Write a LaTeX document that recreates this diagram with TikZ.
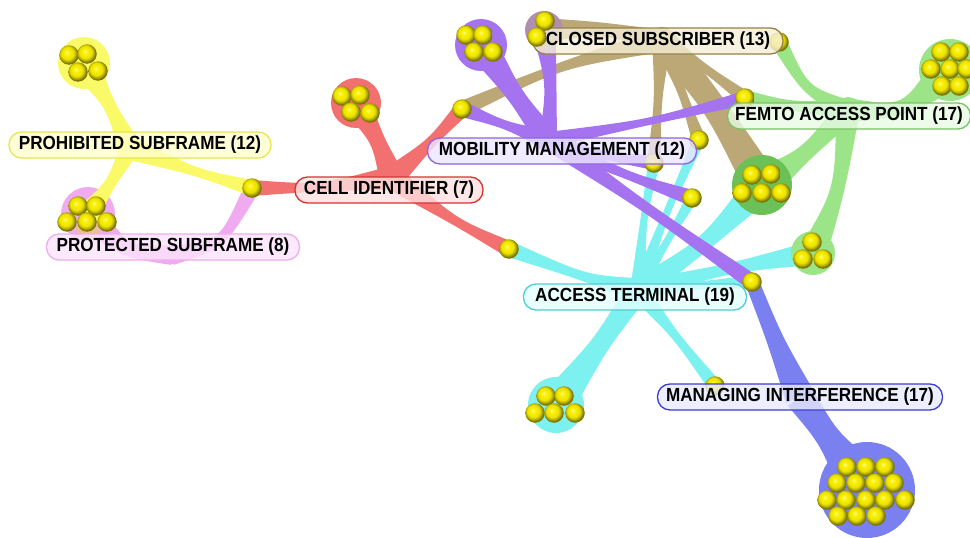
\documentclass[tikz,border=0pt]{standalone}
\usepackage{fontspec}
\usetikzlibrary{calc}
\newfontfamily\lblfont[FakeStretch=0.9]{Liberation Sans}
\definecolor{cyel}{RGB}{250,250,105}
\definecolor{cpink}{RGB}{240,170,240}
\definecolor{cred}{RGB}{242,112,112}
\definecolor{cpur}{RGB}{165,115,240}
\definecolor{ctan}{RGB}{188,168,118}
\definecolor{cgrn}{RGB}{155,228,135}
\definecolor{cdgrn}{RGB}{108,192,88}
\definecolor{ccyn}{RGB}{125,240,240}
\definecolor{cblu}{RGB}{122,128,240}
\definecolor{cmix}{RGB}{176,142,175}
\definecolor{corg}{RGB}{238,190,150}
\definecolor{bally}{RGB}{250,240,0}
\definecolor{dyel}{RGB}{230,230,80}\definecolor{fyel}{RGB}{255,255,205}
\definecolor{dpink}{RGB}{235,175,235}\definecolor{fpink}{RGB}{252,228,252}
\definecolor{dred}{RGB}{215,50,50}\definecolor{fred}{RGB}{255,225,225}
\definecolor{dpur}{RGB}{140,100,225}\definecolor{fpur}{RGB}{238,230,255}
\definecolor{dtan}{RGB}{150,130,70}\definecolor{ftan}{RGB}{245,238,215}
\definecolor{dgrn}{RGB}{120,195,100}\definecolor{fgrn}{RGB}{232,250,228}
\definecolor{dcyn}{RGB}{80,205,210}\definecolor{fcyn}{RGB}{228,255,255}
\definecolor{dblu}{RGB}{60,60,210}\definecolor{fblu}{RGB}{232,234,255}
\pgfdeclareradialshading{yball}{\pgfpoint{-6bp}{7bp}}{color(0bp)=(bally!45!white); color(7bp)=(bally); color(16bp)=(bally!94!black); color(22bp)=(bally!65!black); color(25bp)=(bally!48!black); color(50bp)=(bally!48!black)}
\pgfdeclarelayer{bg}
\pgfsetlayers{bg,main}
% ribbon: colour, A, control, B, half width at A, middle, at B
\newcommand\rib[7]{%
  \path ($(#2)!#6pt!90:(#4)$) coordinate (rl) ($(#2)!#6pt!-90:(#4)$) coordinate (rr);
  \fill[#1] ($(#2)!#5pt!90:(#3)$) .. controls ($(#3)+(rl)-(#2)$) .. ($(#4)!#7pt!-90:(#3)$)
    -- ($(#4)!#7pt!90:(#3)$) .. controls ($(#3)+(rr)-(#2)$) .. ($(#2)!#5pt!-90:(#3)$) -- cycle;}
\tikzset{
  ballnode/.style={circle, minimum size=19.5pt, inner sep=0pt, shading=yball},
  lbl/.style={rounded corners=12.5pt, minimum height=26pt, inner sep=0pt, line width=1.3pt,
    fill opacity=0.8, text opacity=1, text=black,
    font=\lblfont\bfseries\fontsize{19}{19}\selectfont},
}
\begin{document}
\begin{tikzpicture}[x=1pt,y=-1pt]
\useasboundingbox (0,0) rectangle (970,538);
% hubs
\coordinate (hY) at (130,148);
\coordinate (hP) at (172,255);
\coordinate (hR) at (392,178);
\coordinate (hPu) at (548,140);
\coordinate (hT) at (662,40);
\coordinate (hG) at (848,110);
\coordinate (hC) at (638,290);
\coordinate (hB) at (800,397);
% cluster centres
\coordinate (cY) at (84,63);
\coordinate (cP) at (88,214);
\coordinate (cR) at (356,103);
\coordinate (cPu) at (481,45);
\coordinate (cT) at (544,30);
\coordinate (cG) at (762,185);
\coordinate (cG2) at (950,70);
\coordinate (cG3) at (813,253);
\coordinate (cC) at (556,405);
\coordinate (cB) at (867,490);
% single balls
\node[ballnode] (b1) at (252,188) {};
\node[ballnode] (b2) at (462,109) {};
\node[ballnode] (b3) at (509,249) {};
\node[ballnode] (b4) at (745,98) {};
\node[ballnode] (b5) at (699,140) {};
\node[ballnode] (b6) at (654,163) {};
\node[ballnode] (b7) at (692,198) {};
\node[ballnode] (b8) at (752,282) {};
\node[ballnode] (b9) at (715,386) {};
\node[ballnode] (b10) at (779,42) {};
% cluster balls
\foreach \x/\y [count=\i] in {69/55,87/54,78/72,98/71} \node[ballnode] (y\i) at (\x,\y) {};
\foreach \x/\y [count=\i] in {78/206,96/206,67/222,87/222,107/222} \node[ballnode] (p\i) at (\x,\y) {};
\foreach \x/\y [count=\i] in {342/96,360/95,351/112,370/113} \node[ballnode] (r\i) at (\x,\y) {};
\foreach \x/\y [count=\i] in {466/35,483/35,474/52,493/52} \node[ballnode] (v\i) at (\x,\y) {};
\foreach \x/\y [count=\i] in {752/175,771/174,742/193,762/193,781/193} \node[ballnode] (g\i) at (\x,\y) {};
\foreach \x/\y [count=\i] in {941/52,959/52,931/69,950/69,967/69,942/86,959/86} \node[ballnode] (h\i) at (\x,\y) {};
\foreach \x/\y [count=\i] in {812/242,803/259,823/259} \node[ballnode] (k\i) at (\x,\y) {};
\foreach \x/\y [count=\i] in {546/396,564/396,535/413,554/413,575/413} \node[ballnode] (c\i) at (\x,\y) {};
\foreach \x/\y [count=\i] in {847/467,866/467,885/467,837/483,856/483,875/483,894/483,827/500,846/500,866/500,885/500,905/500,838/516,857/516,876/516} \node[ballnode] (u\i) at (\x,\y) {};
% labels
\node[lbl, draw=dyel, fill=fyel, minimum width=262pt] (lPro) at (140,145) {PROHIBITED SUBFRAME (12)};
\node[lbl, draw=dpink, fill=fpink, minimum width=253pt] (lPrt) at (173,247) {PROTECTED SUBFRAME (8)};
\node[lbl, draw=dred, fill=fred, minimum width=188pt] (lCell) at (389,190) {CELL IDENTIFIER (7)};
\node[lbl, draw=dpur, fill=fpur, minimum width=269pt] (lMob) at (562,151) {MOBILITY MANAGEMENT (12)};
\node[lbl, draw=dtan, fill=ftan, minimum width=250pt] (lClo) at (658,41) {CLOSED SUBSCRIBER (13)};
\node[lbl, draw=dgrn, fill=fgrn, minimum width=243pt] (lFem) at (849,116) {FEMTO ACCESS POINT (17)};
\node[lbl, draw=dcyn, fill=fcyn, minimum width=223pt] (lAcc) at (635,297) {ACCESS TERMINAL (19)};
\node[lbl, draw=dblu, fill=fblu, minimum width=285pt] (lMan) at (800,397) {MANAGING INTERFERENCE (17)};
\foreach \x/\y [count=\i] in {545/21,537/37} \node[ballnode] (t\i) at (\x,\y) {};
% ribbons
\begin{pgfonlayer}{bg}
% cyan
\fill[ccyn] (cC) circle (28pt);
\fill[ccyn] (hC) circle (13pt);
\rib{ccyn}{hC}{585,278}{b3}{12}{3}{8}
\rib{ccyn}{hC}{600,345}{cC}{12}{8}{18}
\rib{ccyn}{hC}{675,335}{b9}{10}{3}{7}
\rib{ccyn}{hC}{643,220}{b6}{8}{2.5}{6}
\rib{ccyn}{hC}{665,215}{b5}{8}{2.5}{6}
\rib{ccyn}{hC}{665,245}{b7}{8}{2.5}{6}
\rib{ccyn}{hC}{705,245}{cG}{12}{6}{16}
\rib{ccyn}{hC}{730,268}{cG3}{10}{4}{12}
\rib{ccyn}{hC}{700,285}{b8}{8}{3}{7}
% blue
\fill[cblu] (cB) circle (48pt);
\rib{cblu}{b8}{775,340}{hB}{7}{8}{15}
\rib{cblu}{hB}{830,440}{cB}{15}{10}{28}
% tan
\fill[ctan] (hT) circle (13pt);
\rib{ctan}{hT}{560,65}{b2}{12}{3}{8}
\rib{ctan}{hT}{600,28}{cT}{10}{6}{12}
\rib{ctan}{hT}{658,100}{b6}{10}{3}{7}
\rib{ctan}{hT}{682,92}{b5}{10}{3}{7}
\rib{ctan}{hT}{715,105}{cG}{14}{11}{18}
\rib{ctan}{hT}{705,68}{b4}{10}{3}{7}
% purple
\fill[cpur] (cPu) circle (26pt);
\fill[cpur] (hPu) circle (12pt);
\rib{cpur}{hPu}{515,95}{cPu}{12}{7}{16}
\rib{cpur}{hPu}{552,85}{cT}{9}{5}{12}
\rib{cpur}{hPu}{505,125}{b2}{10}{3}{8}
\rib{cpur}{hPu}{650,122}{b4}{8}{2.5}{7}
\rib{cpur}{hPu}{600,155}{b6}{8}{3}{7}
\rib{cpur}{hPu}{625,175}{b7}{10}{3}{8}
\rib{cpur}{hPu}{650,210}{b8}{10}{4}{8}
\fill[cmix] (cT) circle (19pt);
% green
\fill[cgrn] (cG2) circle (31pt);
\fill[cgrn] (cG3) circle (22pt);
\fill[cgrn] (hG) circle (13pt);
\rib{cgrn}{hG}{905,112}{cG2}{12}{5}{20}
\rib{cgrn}{hG}{805,90}{b10}{10}{4}{8}
\rib{cgrn}{hG}{790,106}{b4}{10}{4}{8}
\rib{cgrn}{hG}{805,155}{cG}{12}{6}{18}
\rib{cgrn}{hG}{840,190}{cG3}{12}{5}{14}
\fill[cdgrn] (cG) circle (30pt);
% red
\fill[cred] (cR) circle (25pt);
\fill[cred] (hR) circle (13pt);
\rib{cred}{hR}{378,140}{cR}{13}{6}{15}
\rib{cred}{hR}{432,142}{b2}{12}{4}{8}
\rib{cred}{hR}{320,188}{b1}{12}{3}{8}
\rib{cred}{hR}{455,222}{b3}{12}{3}{8}
% pink
\fill[cpink] (cP) circle (27pt);
\fill[cpink] (hP) circle (9pt);
\rib{cpink}{hP}{222,245}{b1}{10}{4}{8}
\rib{cpink}{hP}{125,252}{cP}{10}{6}{16}
\fill[corg] (88,228) circle (12pt);
% yellow
\fill[cyel] (cY) circle (26pt);
\fill[cyel] (hY) circle (12pt);
\rib{cyel}{hY}{110,105}{cY}{12}{4}{16}
\rib{cyel}{hY}{195,172}{b1}{12}{3}{8}
\rib{cyel}{hY}{110,185}{cP}{10}{4}{12}
\end{pgfonlayer}
\end{tikzpicture}
\end{document}
